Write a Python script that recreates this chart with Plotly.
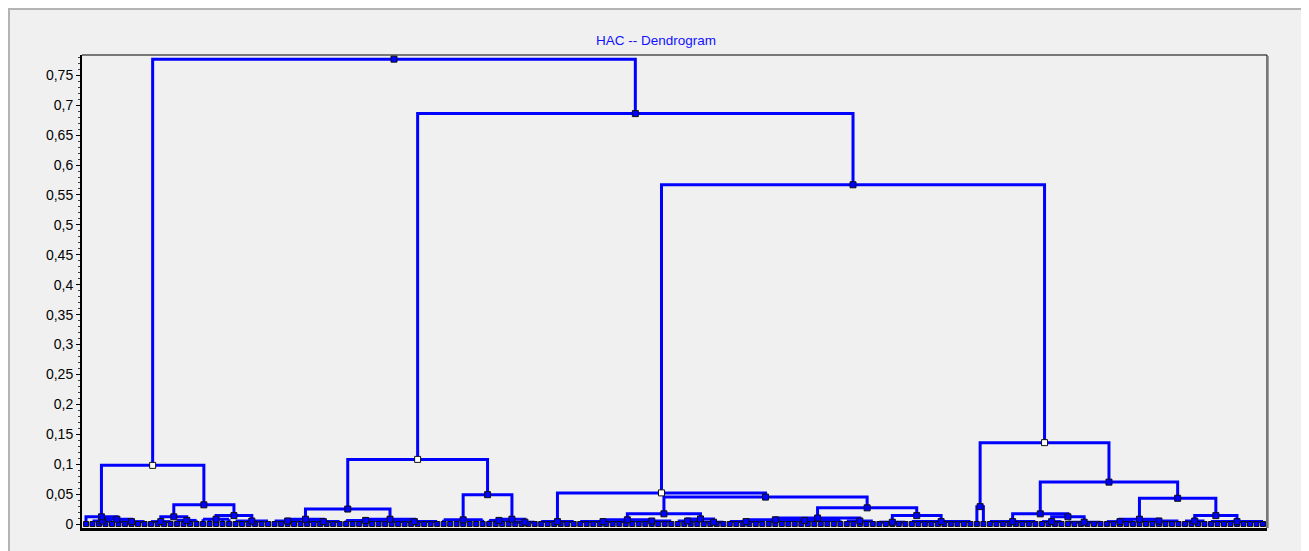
import plotly.graph_objects as go

# ---- data: low-level leaf groups (left to right) ----
group_sizes = [1, 4, 5, 4, 4, 5, 6, 5, 6, 7, 8, 7, 4, 4, 6, 8, 7, 4, 4, 6, 12, 5, 5, 10, 1, 1, 8, 4, 6, 5, 7, 4, 9]
group_heights = [0, 0.005, 0.004, 0.004, 0.006, 0.008, 0.005, 0.005, 0.004, 0.006, 0.004, 0.007, 0.006, 0.003,
                 0.004, 0.004, 0.005, 0.005, 0.003, 0.004, 0.006, 0.005, 0.003, 0.004, 0, 0, 0.004, 0.004,
                 0.003, 0.004, 0.005, 0.005, 0.004]

# ---- data: merges (node ids continue after the groups) ----
merge_left = [1, 0, 3, 5, 35, 34, 7, 9, 39, 12, 11, 41, 15, 17, 45, 19, 48, 22, 49, 47, 14, 24, 27, 26, 29, 31, 57, 56, 54, 53, 44, 38]
merge_right = [2, 33, 4, 6, 36, 37, 8, 10, 40, 13, 42, 43, 16, 18, 46, 20, 21, 23, 50, 51, 52, 25, 28, 55, 30, 32, 58, 59, 60, 61, 62, 63]
merge_heights = [0.008, 0.012, 0.012, 0.014, 0.032, 0.098, 0.008, 0.008, 0.025, 0.008, 0.049, 0.108,
                 0.007, 0.0085, 0.017, 0.007, 0.010, 0.014, 0.027, 0.045, 0.052, 0.029, 0.012, 0.017,
                 0.008, 0.014, 0.043, 0.070, 0.136, 0.567, 0.686, 0.777]
highlight_nodes = [38, 44, 53, 61]

y_tick_values = [0, 0.05, 0.1, 0.15, 0.2, 0.25, 0.3, 0.35, 0.4, 0.45, 0.5, 0.55, 0.6, 0.65, 0.7, 0.75]
y_tick_labels = ["0", "0,05", "0,1", "0,15", "0,2", "0,25", "0,3", "0,35", "0,4", "0,45", "0,5",
                 "0,55", "0,6", "0,65", "0,7", "0,75"]

# ---- build geometry through the tree ----
n_leaves = sum(group_sizes)
line_x, line_y = [], []
node_x, node_y = [], []
mk_x, mk_y = [], []
start = 0
for n, h in zip(group_sizes, group_heights):
    first, last = start, start + n - 1
    node_x.append((first + last) / 2)
    node_y.append(h)
    if n > 1:
        line_x += [first, last, None]
        line_y += [h, h, None]
        for i in range(first, last + 1):
            line_x += [i, i, None]
            line_y += [h, 0, None]
        mk_x.append((first + last) / 2)
        mk_y.append(h)
    start += n

white_x, white_y = [], []
for k, (l, r, h) in enumerate(zip(merge_left, merge_right, merge_heights)):
    nid = len(group_sizes) + k
    xl, yl, xr, yr = node_x[l], node_y[l], node_x[r], node_y[r]
    line_x += [xl, xl, xr, xr, None]
    line_y += [yl, h, h, yr, None]
    x = (xl + xr) / 2
    node_x.append(x)
    node_y.append(h)
    if nid in highlight_nodes:
        white_x.append(x)
        white_y.append(h)
    else:
        mk_x.append(x)
        mk_y.append(h)

leaf_x = list(range(n_leaves))
leaf_y = [0] * n_leaves

fig = go.Figure()
fig.add_trace(go.Scatter(x=line_x, y=line_y, mode="lines",
                         line=dict(color="#0000ff", width=3), hoverinfo="skip", showlegend=False))
fig.add_trace(go.Scatter(x=leaf_x, y=leaf_y, mode="markers",
                         marker=dict(symbol="square", size=5, color="#0000ff", line=dict(color="#101010", width=1)),
                         showlegend=False))
fig.add_trace(go.Scatter(x=mk_x, y=mk_y, mode="markers",
                         marker=dict(symbol="square", size=6, color="#0000ff", line=dict(color="#101010", width=1)),
                         showlegend=False))
fig.add_trace(go.Scatter(x=white_x, y=white_y, mode="markers",
                         marker=dict(symbol="square", size=6, color="#ffffff", line=dict(color="#101010", width=1)),
                         showlegend=False))

# page body adds an 8px offset; work in screen pixels and convert
OFF = 8
W, H = 1309 - OFF, 551 - OFF
PL, PT, PR, PB = 82, 55, 1267, 528          # plot area in screen pixels
L, T = PL - OFF, PT - OFF
R, B = W - (PR - OFF), H - (PB - OFF)
pw, ph = W - L - R, H - T - B


def px(xs):
    return (xs - OFF - L) / pw


def py(ys):
    return (H - B - (ys - OFF)) / ph


shapes = [
    dict(type="rect", xref="paper", yref="paper", x0=px(0), x1=px(1304), y0=py(8), y1=py(560),
         fillcolor="#f0f0f0", line=dict(width=0), layer="below"),
    dict(type="line", xref="paper", yref="paper", x0=px(0), x1=px(1305), y0=py(9), y1=py(9),
         line=dict(color="#b4b4b4", width=2), layer="below"),
    dict(type="line", xref="paper", yref="paper", x0=px(9), x1=px(9), y0=py(8), y1=py(560),
         line=dict(color="#b4b4b4", width=2), layer="below"),
    dict(type="line", xref="paper", yref="paper", x0=px(1304.5), x1=px(1304.5), y0=py(8), y1=py(560),
         line=dict(color="#e4e4e4", width=1), layer="below"),
    dict(type="line", xref="paper", yref="paper", x0=0, x1=1, y0=1, y1=1,
         line=dict(color="#000000", width=1)),
    dict(type="line", xref="paper", yref="paper", x0=1, x1=1, y0=0, y1=1,
         line=dict(color="#000000", width=1)),
    dict(type="line", xref="paper", yref="paper", x0=px(1268.5), x1=px(1268.5), y0=0, y1=py(56),
         line=dict(color="#a0a0a0", width=1)),
]

s = (1263 - 86) / (n_leaves - 1)
fig.update_layout(
    width=W, height=H,
    margin=dict(l=L, r=R, t=T, b=B, pad=0),
    paper_bgcolor="#ffffff",
    plot_bgcolor="#f0f0f0",
    title=dict(text="HAC -- Dendrogram", x=(656 - OFF) / W, xref="container", xanchor="center",
               y=1 - (40 - OFF) / H, yref="container", yanchor="middle",
               font=dict(family="Liberation Sans, Arial, sans-serif", size=13.5, color="#1010ff")),
    font=dict(family="Liberation Sans, Arial, sans-serif", size=14, color="#000000"),
    shapes=shapes,
    xaxis=dict(range=[-(86 - PL) / s, (n_leaves - 1) + (PR - 1263) / s], showgrid=False, zeroline=False,
               showticklabels=False, ticks="", showline=True, linecolor="#000000", linewidth=3),
    yaxis=dict(range=[-(PB - 524) / 598, 0.75 + (75.3 - PT) / 598], showgrid=False, zeroline=False,
               tickvals=y_tick_values, ticktext=y_tick_labels, ticks="outside", ticklen=4, tickwidth=1,
               tickcolor="#000000", showline=True, linecolor="#000000", linewidth=2,
               minor=dict(ticks="outside", dtick=0.01, ticklen=2, tickcolor="#404040"),
               tickfont=dict(size=14)),
    hovermode=False,
)

fig.write_html("out.html")
